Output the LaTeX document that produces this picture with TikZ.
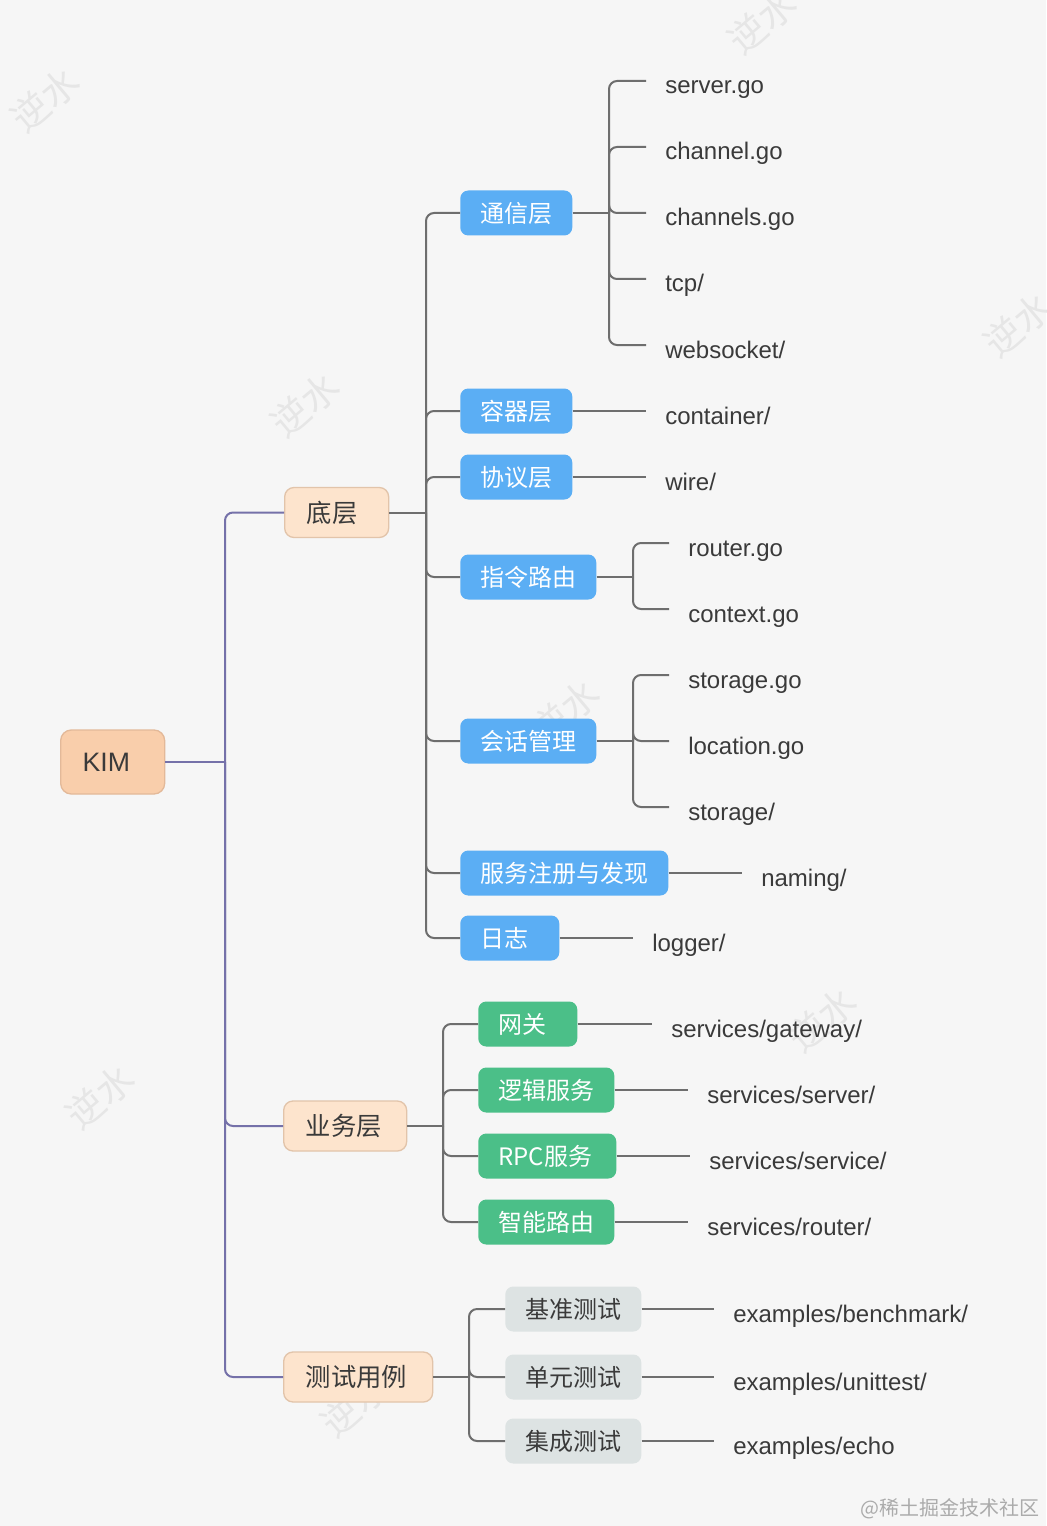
\documentclass[tikz,border=0pt]{standalone}
\usepackage{fontspec}
\setmainfont{Liberation Sans}
\newfontfamily\cjk{Noto Sans CJK SC}
\definecolor{bgc}{HTML}{F6F6F6}
\definecolor{lnc}{HTML}{6E6E6E}
\definecolor{purp}{HTML}{7571A9}
\definecolor{kimf}{HTML}{F9CEAB}
\definecolor{kimd}{HTML}{E3B999}
\definecolor{peachf}{HTML}{FDE4CD}
\definecolor{peachd}{HTML}{E2C4AA}
\definecolor{bluef}{HTML}{5BAEF4}
\definecolor{greenf}{HTML}{4BBF88}
\definecolor{grayf}{HTML}{DDE3E3}
\definecolor{txt}{HTML}{3A3A3A}
\definecolor{wm}{HTML}{E6E6E6}
\definecolor{credc}{HTML}{ABABAB}
\begin{document}
\begin{tikzpicture}[x=0.75pt,y=-0.75pt,
 every node/.style={inner sep=0pt},
 conn/.style={draw=lnc, line width=1.5pt, rounded corners=6pt},
 pconn/.style={draw=purp, line width=1.5pt, rounded corners=6pt},
 abox/.style={anchor=west, rounded corners=6pt, inner xsep=15pt, inner ysep=0pt, minimum height=33.75pt, align=left, font=\cjk\fontsize{18}{20}\selectfont},
 bluebox/.style={abox, fill=bluef, text=white},
 greenbox/.style={abox, fill=greenf, text=white},
 graybox/.style={abox, fill=grayf, text=txt},
 peachbox/.style={anchor=west, rounded corners=7pt, inner xsep=16.5pt, inner ysep=0pt, minimum height=37.5pt, align=left, fill=peachf, draw=peachd, line width=1pt, text=txt, font=\cjk\fontsize{19}{21}\selectfont},
 kimbox/.style={anchor=west, rounded corners=8pt, inner xsep=16.5pt, inner ysep=0pt, minimum height=48pt, align=left, fill=kimf, draw=kimd, line width=1pt, text=txt, font=\fontsize{20}{22}\selectfont},
 leaf/.style={anchor=west, inner xsep=14.25pt, inner ysep=0pt, text height=19.5pt, text depth=0pt, text=txt, font=\fontsize{18}{20}\selectfont},
 wmark/.style={text=wm, rotate=40, font=\cjk\fontsize{28}{28}\selectfont}
]
\useasboundingbox (0,0) rectangle (1046,1526);
\fill[bgc] (0,0) rectangle (1046,1526);

% watermarks
\node[wmark] (wm1) at (45,100) {逆水};
\node[wmark] (wm2) at (762,22) {逆水};
\node[wmark] (wm3) at (305,405) {逆水};
\node[wmark] (wm4) at (1018,325) {逆水};
\node[wmark] (wm5) at (565,712) {逆水};
\node[wmark] (wm6) at (822,1020) {逆水};
\node[wmark] (wm7) at (100,1097) {逆水};
\node[wmark] (wm8) at (355,1405) {逆水};

% root and level 1
\node[kimbox, text width=45pt] (kim) at (60,762) {KIM};
\node[peachbox, text width=45pt] (dc) at (284,512.5) {底层};
\node[peachbox, text width=59.25pt] (yw) at (283,1126) {业务层};
\node[peachbox, text width=78.75pt] (cs) at (283,1377) {测试用例};

% level 2 under 底层
\node[bluebox, text width=54pt] (t1) at (460,213) {通信层};
\node[bluebox, text width=54pt] (t2) at (460,411) {容器层};
\node[bluebox, text width=54pt] (t3) at (460,477) {协议层};
\node[bluebox, text width=72pt] (t4) at (460,577) {指令路由};
\node[bluebox, text width=72pt] (t5) at (460,741) {会话管理};
\node[bluebox, text width=126pt] (t6) at (460,873) {服务注册与发现};
\node[bluebox, text width=44.25pt] (t7) at (460,938) {日志};

% level 2 under 业务层
\node[greenbox, text width=44.25pt] (b1) at (478,1024) {网关};
\node[greenbox, text width=72pt] (b2) at (478,1090) {逻辑服务};
\node[greenbox, text width=73.5pt] (b3) at (478,1156) {RPC服务};
\node[greenbox, text width=72pt] (b4) at (478,1222) {智能路由};

% level 2 under 测试用例
\node[graybox, text width=72pt] (x1) at (505,1309) {基准测试};
\node[graybox, text width=72pt] (x2) at (505,1377) {单元测试};
\node[graybox, text width=72pt] (x3) at (505,1441) {集成测试};

% leaves
\node[leaf] (s1) at (646,81) {server.go};
\node[leaf] (s2) at (646,147) {channel.go};
\node[leaf] (s3) at (646,213) {channels.go};
\node[leaf] (s4) at (646,279) {tcp/};
\node[leaf] (s5) at (646,345) {websocket/};
\node[leaf] (c1) at (646,411) {container/};
\node[leaf] (w1) at (646,477) {wire/};
\node[leaf] (r1) at (669,543) {router.go};
\node[leaf] (r2) at (669,609) {context.go};
\node[leaf] (g1) at (669,675) {storage.go};
\node[leaf] (g2) at (669,741) {location.go};
\node[leaf] (g3) at (669,807) {storage/};
\node[leaf] (n1) at (742,873) {naming/};
\node[leaf] (l1) at (633,938) {logger/};
\node[leaf] (bs1) at (652,1024) {services/gateway/};
\node[leaf] (bs2) at (688,1090) {services/server/};
\node[leaf] (bs3) at (690,1156) {services/service/};
\node[leaf] (bs4) at (688,1222) {services/router/};
\node[leaf] (e1) at (714,1309) {examples/benchmark/};
\node[leaf] (e2) at (714,1377) {examples/unittest/};
\node[leaf] (e3) at (714,1441) {examples/echo};

% credit
\node[text=credc, anchor=east, font=\cjk\fontsize{15}{15}\selectfont] (cred) at (1040,1509) {@稀土掘金技术社区};

% junctions
\coordinate (j0) at (225,762);
\coordinate (jd) at (426,512.5);
\coordinate (jt) at (609,213);
\coordinate (jr) at (633,577);
\coordinate (jh) at (633,741);
\coordinate (jy) at (443,1126);
\coordinate (jc) at (469,1377);

% purple connectors
\draw[pconn] (kim.east) -- (j0);
\draw[pconn] (j0) |- (dc.west);
\draw[pconn] (j0) |- (yw.west);
\draw[pconn] (j0) |- (cs.west);

% 底层 subtree
\draw[conn] (dc.east) -- (jd);
\foreach \c in {t1,t2,t3,t4,t5,t6,t7} \draw[conn] (jd) |- (\c.west);
\draw[conn] (t1.east) -- (jt);
\foreach \c in {s1,s2,s3,s4,s5} \draw[conn] (jt) |- (\c.west);
\draw[conn] (t2.east) -- (c1.west);
\draw[conn] (t3.east) -- (w1.west);
\draw[conn] (t4.east) -- (jr);
\foreach \c in {r1,r2} \draw[conn] (jr) |- (\c.west);
\draw[conn] (t5.east) -- (jh);
\foreach \c in {g1,g2,g3} \draw[conn] (jh) |- (\c.west);
\draw[conn] (t6.east) -- (n1.west);
\draw[conn] (t7.east) -- (l1.west);

% 业务层 subtree
\draw[conn] (yw.east) -- (jy);
\foreach \c in {b1,b2,b3,b4} \draw[conn] (jy) |- (\c.west);
\draw[conn] (b1.east) -- (bs1.west);
\draw[conn] (b2.east) -- (bs2.west);
\draw[conn] (b3.east) -- (bs3.west);
\draw[conn] (b4.east) -- (bs4.west);

% 测试用例 subtree
\draw[conn] (cs.east) -- (jc);
\foreach \c in {x1,x2,x3} \draw[conn] (jc) |- (\c.west);
\draw[conn] (x1.east) -- (e1.west);
\draw[conn] (x2.east) -- (e2.west);
\draw[conn] (x3.east) -- (e3.west);
\end{tikzpicture}
\end{document}
